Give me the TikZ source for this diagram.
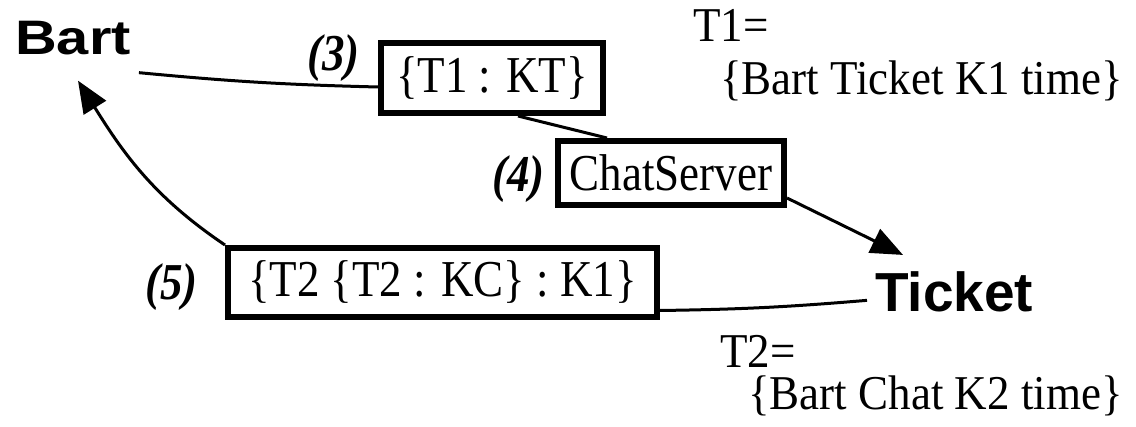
\documentclass[tikz,border=0pt]{standalone}
\usepackage{fontspec}
\setmainfont{Liberation Serif}
\setsansfont{Liberation Sans}
\usepackage{graphicx}
\usetikzlibrary{arrows.meta}
\newcommand{\tstr}[1]{\scalebox{1}[1.15]{#1}}
\newcommand{\tdef}[1]{\scalebox{1}[1.08]{#1}}
\begin{document}
\begin{tikzpicture}[x=1pt,y=-1pt,
  txt/.style={inner sep=0pt, anchor=base west, font=\fontsize{45}{54}\selectfont},
  lbl/.style={inner sep=0pt, anchor=base west, font=\fontsize{45}{54}\selectfont\bfseries\itshape},
  party/.style={inner sep=0pt, anchor=base west, font=\fontsize{55}{66}\selectfont\sffamily\bfseries},
  msgbox/.style={draw, line width=6pt, inner sep=0pt, font=\fontsize{45}{54}\selectfont},
  conn/.style={line width=3pt},
  arr/.style={line width=3pt, -{Triangle[length=32pt,width=26pt]}}]
\useasboundingbox (0,0) rectangle (1136,427);
% parties
\node[party] (bart) at (15,55) {\scalebox{1.05}[0.88]{Bart}};
\node[party] (ticket) at (875,312) {Ticket};
% message boxes
\node[msgbox, minimum width=222pt, minimum height=70pt] (box1) at (492,78) {\tstr{\{T1 : KT\}}};
\node[msgbox, minimum width=226pt, minimum height=64pt] (chat) at (671,173) {\tstr{ChatServer}};
\node[msgbox, minimum width=429pt, minimum height=69pt] (box2) at (442.5,282.5) {\tstr{\{T2 \{T2 : KC\} : K1\}}};
% step labels
\node[lbl] (l3) at (307,71) {\tstr{(3)}};
\node[lbl] (l4) at (492,192) {\tstr{(4)}};
\node[lbl] (l5) at (145,300) {\tstr{(5)}};
% ticket definitions
\node[txt] (t1a) at (693,42) {\tdef{T1=}};
\node[txt] (t1b) at (720,95) {\tdef{\{Bart Ticket K1 time\}}};
\node[txt] (t2a) at (720,368) {\tdef{T2=}};
\node[txt] (t2b) at (748,410) {\tdef{\{Bart Chat K2 time\}}};
% connectors
\draw[conn] ([shift={(8pt,-17pt)}]bart.south east) to[bend right=2] (box1.west |- 0,87);
\draw[conn] ([xshift=26pt]box1.south) -- ([xshift=-64pt]chat.north);
\draw[arr] ([yshift=-25pt]chat.east) -- ([shift={(28pt,17pt)}]ticket.north west);
\draw[conn] ([shift={(-8pt,-8pt)}]ticket.west) to[bend left=2] ([yshift=-28pt]box2.east);
\draw[arr] (box2.north west) to[out=146,in=-58] ([shift={(63pt,-25pt)}]bart.south west);
\end{tikzpicture}
\end{document}
